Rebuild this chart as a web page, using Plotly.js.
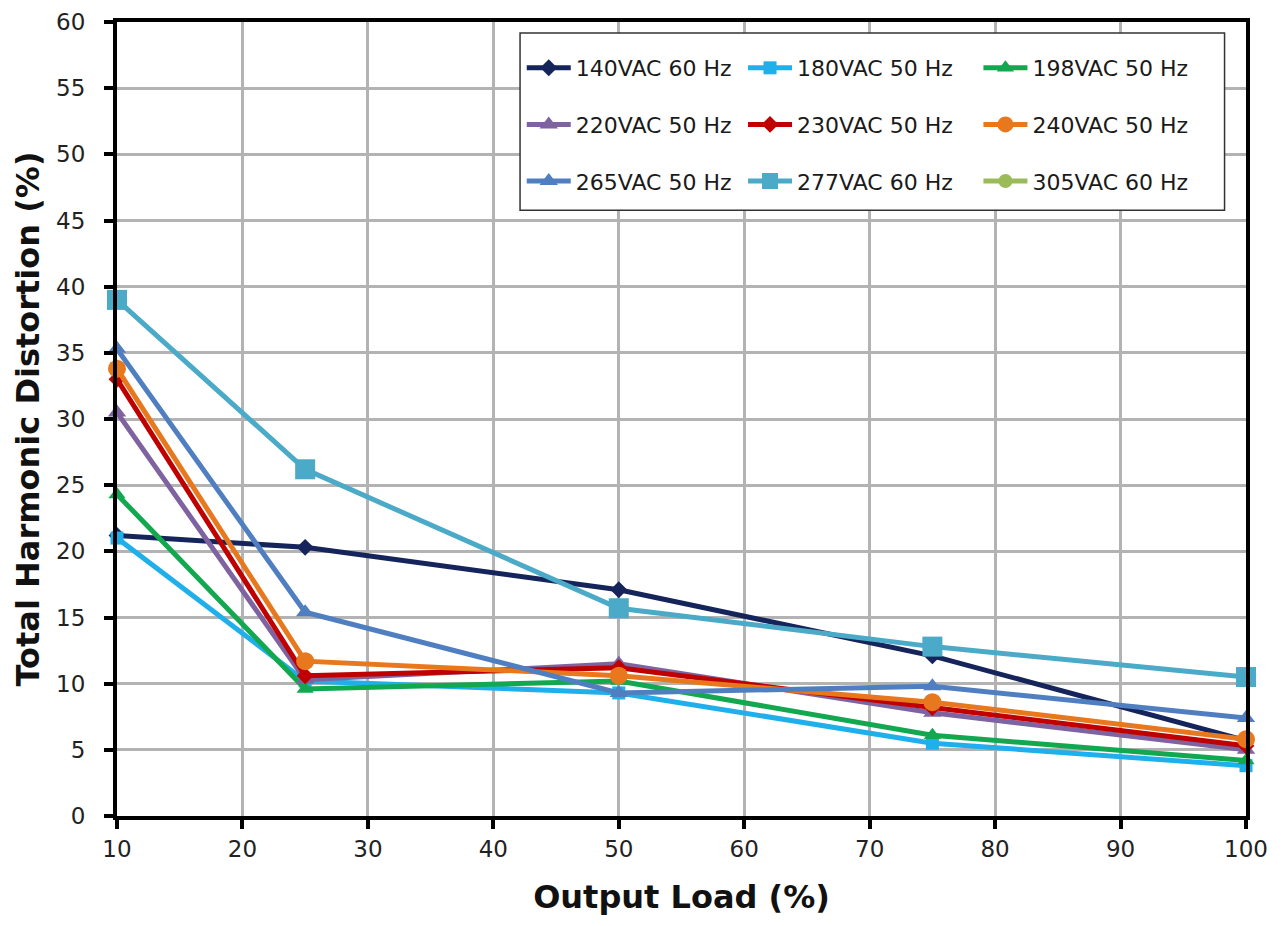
<!DOCTYPE html>
<html>
<head>
<meta charset="utf-8">
<script src="https://cdn.plot.ly/plotly-3.0.1.min.js"></script>
<style>html,body{margin:0;padding:0;background:#fff;}#chart{width:1284px;height:926px;}</style>
</head>
<body>
<div id="chart"></div>
<script>
const loads = [10, 25, 50, 75, 100];
const names = ["140VAC 60 Hz","180VAC 50 Hz","198VAC 50 Hz","220VAC 50 Hz","230VAC 50 Hz","240VAC 50 Hz","265VAC 50 Hz","277VAC 60 Hz","305VAC 60 Hz"];
const thd140 = [21.2, 20.3, 17.1, 12.1, 5.7];
const thd180 = [21.0, 10.2, 9.3, 5.5, 3.8];
const thd198 = [24.3, 9.6, 10.2, 6.1, 4.2];
const thd220 = [30.5, 10.3, 11.5, 7.8, 5.0];
const thd230 = [33.0, 10.6, 11.2, 8.2, 5.3];
const thd240 = [33.8, 11.7, 10.6, 8.6, 5.8];
const thd265 = [35.3, 15.4, 9.3, 9.8, 7.4];
const thd277 = [39.0, 26.2, 15.7, 12.8, 10.5];
const thd305 = [null, null, null, null, null];
const xTicks = [10,20,30,40,50,60,70,80,90,100];
const yTicks = [0,5,10,15,20,25,30,35,40,45,50,55,60];

const series = [thd140, thd180, thd198, thd220, thd230, thd240, thd265, thd277, thd305];
const colors = ["#15245a","#1fb0ec","#12a84f","#7f62a0","#c00000","#e8781e","#4f7fc0","#4aaac8","#9bbb59"];
const symbols = ["diamond","square","triangle-up","triangle-up","diamond","circle","triangle-up","square","circle"];
const sizes = [13, 13, 15, 16, 13, 18, 16, 20, 14];
const legendOf = ["legend","legend2","legend3","legend","legend2","legend3","legend","legend2","legend3"];

const tf = "'DejaVu Sans', Verdana, sans-serif";
const data = series.map((y, i) => ({
  x: loads, y: y, name: names[i], type: "scatter", mode: "lines+markers",
  line: {color: colors[i], width: 5},
  marker: {color: colors[i], symbol: symbols[i], size: sizes[i]},
  legend: legendOf[i], legendgroup: "g" + i, legendrank: i + 1, showlegend: true,
  cliponaxis: false
}));

const legBase = {
  bgcolor: "rgba(0,0,0,0)", borderwidth: 0,
  font: {family: "'DejaVu Sans', sans-serif", size: 22, color: "#1a1a1a"},
  tracegroupgap: 25, itemwidth: 44, xanchor: "left", yanchor: "top", traceorder: "grouped",
  orientation: "v"
};
const layout = {
  width: 1284, height: 926,
  margin: {l: 117, r: 38, t: 22, b: 110},
  paper_bgcolor: "#fff", plot_bgcolor: "#fff",
  font: {family: tf, color: "#1a1a1a"},
  xaxis: {
    range: [10, 100], tickvals: xTicks, ticktext: xTicks.map(String),
    showgrid: true, gridcolor: "#b3b3b3", gridwidth: 3,
    showline: true, linecolor: "#000", linewidth: 4, mirror: true,
    ticks: "outside", ticklen: 9, tickwidth: 4, tickcolor: "#000",
    tickfont: {family: tf, size: 23, color: "#222"},
    zeroline: false,
    title: {text: "Output Load (%)", font: {family: tf, size: 32, color: "#111", weight: "bold"}, standoff: 26}
  },
  yaxis: {
    range: [0, 60], tickvals: yTicks, ticktext: yTicks.map(String),
    showgrid: true, gridcolor: "#b3b3b3", gridwidth: 3,
    showline: true, linecolor: "#000", linewidth: 4, mirror: true,
    ticks: "outside", ticklen: 9, tickwidth: 4, tickcolor: "#000",
    ticklabelstandoff: 14,
    tickfont: {family: tf, size: 23, color: "#222"},
    zeroline: false,
    title: {text: "Total Harmonic Distortion (%)", font: {family: tf, size: 32, color: "#111", weight: "bold"}, standoff: 8}
  },
  legend: Object.assign({}, legBase, {x: 0.3585, y: 0.9685}),
  legend2: Object.assign({}, legBase, {x: 0.5545, y: 0.9685}),
  legend3: Object.assign({}, legBase, {x: 0.763, y: 0.9685}),
  shapes: [{type: "rect", xref: "paper", yref: "paper", x0: 0.357, x1: 0.981, y0: 0.763, y1: 0.986,
            line: {color: "#333", width: 1.5}, fillcolor: "#fff", layer: "above"}],
  showlegend: true
};
Plotly.newPlot("chart", data, layout, {displayModeBar: false, staticPlot: true});
</script>
</body>
</html>
